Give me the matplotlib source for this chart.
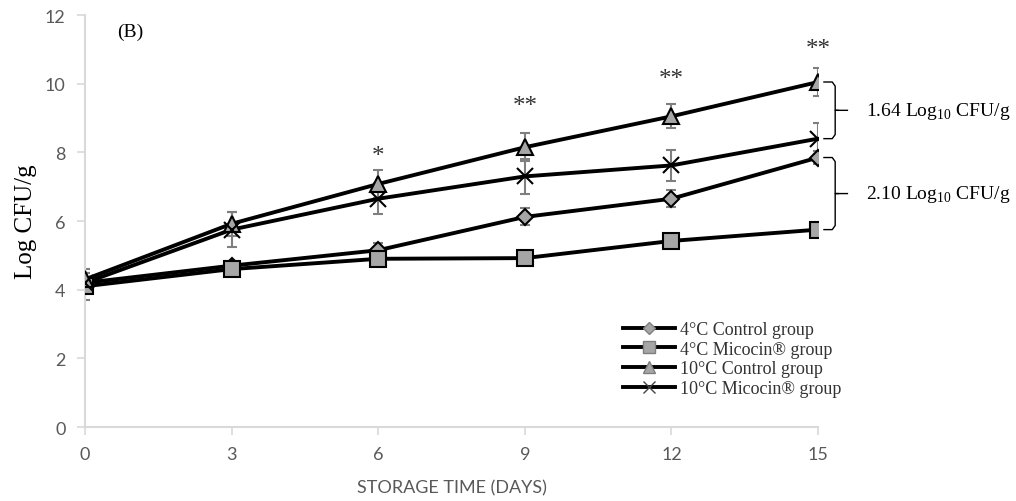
import numpy as np
import matplotlib.pyplot as plt
from matplotlib.lines import Line2D

plt.rcParams['mathtext.fontset'] = 'custom'
plt.rcParams['mathtext.rm'] = 'Liberation Serif'

days = [0, 3, 6, 9, 12, 15]

# mean log CFU/g and standard deviations for each group
ctrl_4 = [4.2, 4.7, 5.15, 6.12, 6.65, 7.85]
ctrl_4_sd = [0.15, 0.15, 0.2, 0.25, 0.25, 0.2]
mico_4 = [4.1, 4.6, 4.9, 4.92, 5.42, 5.75]
mico_4_sd = [0.4, 0.15, 0.12, 0.1, 0.12, 0.2]
ctrl_10 = [4.3, 5.92, 7.08, 8.15, 9.05, 10.05]
ctrl_10_sd = [0.3, 0.35, 0.4, 0.4, 0.35, 0.4]
mico_10 = [4.2, 5.75, 6.65, 7.3, 7.62, 8.4]
mico_10_sd = [0.3, 0.5, 0.45, 0.5, 0.45, 0.45]

stars = ['', '', '*', '**', '**', '**']
star_y = [0, 0, 7.9, 9.35, 10.15, 11.0]

fig = plt.figure(figsize=(10.16, 5.02), dpi=100)
ax = fig.add_axes([0.0837, 0.1474, 0.7215, 0.8206])

grey_fill = '#a6a6a6'
err_col = '#7f7f7f'

series = [
    (ctrl_4, ctrl_4_sd, 'D', 8, '4\u00b0C Control group'),
    (mico_4, mico_4_sd, 's', 11, '4\u00b0C Micocin\u00ae group'),
    (ctrl_10, ctrl_10_sd, '^', 11, '10\u00b0C Control group'),
    (mico_10, mico_10_sd, 'x', 12, '10\u00b0C Micocin\u00ae group'),
]

handles = []
for vals, sd, mk, ms, lab in series:
    ax.errorbar(days, vals, yerr=sd, fmt='none', ecolor=err_col,
                elinewidth=1.5, capsize=3.5, capthick=1.5, zorder=2)
    ax.plot(days, vals, color='black', lw=2.8, zorder=3)
    ax.plot(days, vals, ls='none', marker=mk, ms=ms, mfc=grey_fill,
            mec='black', mew=1.5, zorder=4)
    handles.append(Line2D([], [], color='black', lw=2.8, marker=mk,
                          ms=ms * 0.75, mfc=grey_fill,
                          mec=err_col if mk != 'x' else '#444444',
                          mew=1.0, label=lab))

for d, s, y in zip(days, stars, star_y):
    if s:
        ax.text(d, y, s, ha='center', va='center', fontsize=18,
                family='Liberation Serif', color='#333333')

# braces comparing treatments on the last day
def brace(y_top, y_bot):
    x0, x1, x2 = 15.12, 15.35, 15.6
    r = 0.12
    ym = (y_top + y_bot) / 2
    xs = [x0, x1 - 0.06, x1, x1, x1 + 0.06, x2]
    ys = [y_top, y_top, y_top - r, ym, ym, ym]
    ax.plot(xs, ys, color='black', lw=1, clip_on=False)
    xs = [x0, x1 - 0.06, x1, x1, x1 + 0.06]
    ys = [y_bot, y_bot, y_bot + r, ym, ym]
    ax.plot(xs, ys, color='black', lw=1, clip_on=False)
    return ym

ym1 = brace(ctrl_10[-1], mico_10[-1])
ym2 = brace(ctrl_4[-1], mico_4[-1])
ax.text(15.99, ym1, '1.64 Log$_{10}$ CFU/g', ha='left', va='center',
        fontsize=14, family='Liberation Serif')
ax.text(15.99, ym2, '2.10 Log$_{10}$ CFU/g', ha='left', va='center',
        fontsize=14, family='Liberation Serif')

ax.text(0.044, 0.961, '(B)', transform=ax.transAxes, fontsize=14,
        family='Liberation Serif', va='center', ha='left')

ax.set_xlim(0, 15)
ax.set_ylim(0, 12)
ax.set_xticks(days)
ax.set_yticks(np.arange(0, 13, 2))
for sp in ['top', 'right']:
    ax.spines[sp].set_visible(False)
for sp in ['left', 'bottom']:
    ax.spines[sp].set_color('#d9d9d9')
    ax.spines[sp].set_linewidth(1.5)
ax.tick_params(colors='#d9d9d9', labelcolor='#595959', labelsize=13,
               length=6, width=1.2, pad=8)
for t in ax.get_xticklabels() + ax.get_yticklabels():
    t.set_family('Lato')

ax.set_xlabel('STORAGE TIME (DAYS)', fontsize=13, family='Lato',
              color='#595959', labelpad=12)
ax.set_ylabel('Log CFU/g', fontsize=18, family='Liberation Serif', labelpad=6)

fig.legend(handles=handles, loc='center left', bbox_to_anchor=(623 / 1016, 0.283),
           frameon=False, prop={'family': 'Liberation Serif', 'size': 13},
           handlelength=2.9, handletextpad=0.28, labelspacing=0.15,
           borderpad=0, borderaxespad=0, labelcolor='#333333')

fig.savefig('out.png', dpi=100)
